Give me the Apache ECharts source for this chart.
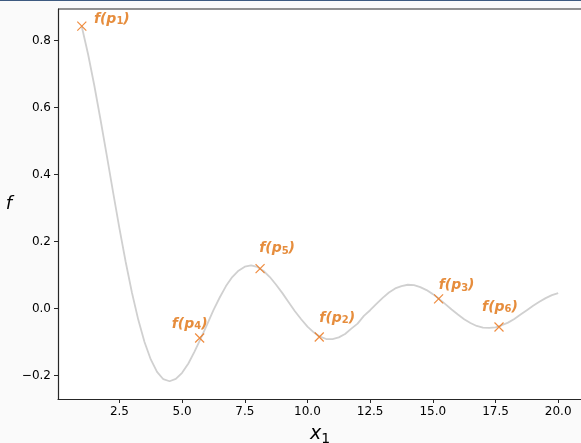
<!DOCTYPE html>
<html>
<head>
<meta charset="utf-8">
<script src="https://cdn.jsdelivr.net/npm/echarts@6/dist/echarts.min.js"></script>
<style>
  html, body { margin: 0; padding: 0; background: #fafafa; }
  #topbar { position: absolute; left: 0; top: 0; width: 581px; height: 1px; background: #3d5a80; z-index: 5; }
  #chart { width: 581px; height: 443px; }
</style>
</head>
<body>
<div id="topbar"></div>
<div id="chart"></div>
<script>
// curve f(x1)
var curveX = [1.0, 1.25, 1.5, 1.75, 2.0, 2.25, 2.5, 2.75, 3.0, 3.25, 3.5, 3.75, 4.0, 4.25, 4.5, 4.75, 5.0, 5.25, 5.5, 5.75,
              6.0, 6.25, 6.5, 6.75, 7.0, 7.25, 7.5, 7.75, 8.0, 8.25, 8.5, 8.75, 9.0, 9.25, 9.5, 9.75, 10.0, 10.25, 10.5, 10.75,
              11.0, 11.25, 11.5, 11.75, 12.0, 12.25, 12.5, 12.75, 13.0, 13.25, 13.5, 13.75, 14.0, 14.25, 14.5, 14.75, 15.0, 15.25, 15.5, 15.75,
              16.0, 16.25, 16.5, 16.75, 17.0, 17.25, 17.5, 17.75, 18.0, 18.25, 18.5, 18.75, 19.0, 19.25, 19.5, 19.75, 20.0];
var curveY = [0.841, 0.759, 0.665, 0.562, 0.455, 0.346, 0.239, 0.139, 0.047, -0.033, -0.100, -0.152, -0.189, -0.211, -0.217, -0.210, -0.192, -0.164, -0.128, -0.088,
              -0.047, -0.005, 0.033, 0.067, 0.094, 0.113, 0.125, 0.129, 0.124, 0.112, 0.094, 0.071, 0.046, 0.019, -0.008, -0.032, -0.054, -0.071, -0.084, -0.091,
              -0.091, -0.086, -0.076, -0.060, -0.045, -0.022, -0.005, 0.014, 0.032, 0.048, 0.060, 0.067, 0.071, 0.070, 0.064, 0.055, 0.043, 0.029, 0.013, -0.003,
              -0.018, -0.032, -0.043, -0.052, -0.057, -0.058, -0.056, -0.050, -0.042, -0.031, -0.018, -0.005, 0.008, 0.020, 0.031, 0.040, 0.046];

// sampled points p_i
var pointNames = ['1', '4', '5', '2', '3', '6'];
var pointX = [1.0, 5.70, 8.11, 10.47, 15.23, 17.64];
var pointY = [0.843, -0.088, 0.119, -0.085, 0.029, -0.055];

var xTicks = [2.5, 5.0, 7.5, 10.0, 12.5, 15.0, 17.5, 20.0];
var yTicks = [-0.2, 0.0, 0.2, 0.4, 0.6, 0.8];

// label offsets from each marker
var labelOffsets = [[30, -7], [-10, -14], [17, -20], [18, -19], [18, -13], [1, -20]];

var chart = echarts.init(document.getElementById('chart'));

var curveData = curveX.map(function (x, i) { return [x, curveY[i]]; });
var pointData = pointX.map(function (x, i) {
  return {
    value: [x, pointY[i]],
    name: pointNames[i],
    label: { offset: labelOffsets[i] }
  };
});

var axisColor = '#262626';
var labelColor = '#e0700c';

chart.setOption({
  animation: false,
  backgroundColor: '#fafafa',
  grid: {
    left: 58, top: 9, width: 524, bottom: 44,
    outerBoundsMode: 'none',
    containLabel: false,
    show: true, backgroundColor: '#ffffff', borderWidth: 0
  },
  xAxis: {
    type: 'value',
    min: 0.05, max: 20.95,
    name: '{i|x}{s|1}',
    nameLocation: 'middle',
    nameGap: 23,
    nameTextStyle: {
      color: '#000',
      rich: {
        i: { fontFamily: 'DejaVu Sans', fontStyle: 'italic', fontSize: 19, color: '#000' },
        s: { fontFamily: 'DejaVu Sans', fontSize: 14, color: '#000', padding: [10, 0, 0, 0] }
      }
    },
    splitLine: { show: false },
    axisLine: { show: true, onZero: false, lineStyle: { color: axisColor, width: 1.2 } },
    axisTick: { show: true, length: 4, customValues: xTicks, lineStyle: { color: axisColor } },
    axisLabel: {
      customValues: xTicks, color: '#000', fontFamily: 'DejaVu Sans', fontSize: 12, margin: 7,
      formatter: function (v) { return v.toFixed(1); }
    }
  },
  yAxis: {
    type: 'value',
    min: -0.27, max: 0.894,
    name: 'f',
    nameLocation: 'middle',
    nameRotate: 0,
    nameGap: 46,
    nameTextStyle: { fontFamily: 'DejaVu Sans', fontStyle: 'italic', fontSize: 18, color: '#000' },
    splitLine: { show: false },
    axisLine: { show: true, onZero: false, lineStyle: { color: axisColor, width: 1.2 } },
    axisTick: { show: true, length: 4, customValues: yTicks, lineStyle: { color: axisColor } },
    axisLabel: {
      customValues: yTicks, color: '#000', fontFamily: 'DejaVu Sans', fontSize: 12, margin: 7,
      formatter: function (v) { return v.toFixed(1).replace('-', '\u2212'); }
    }
  },
  graphic: [
    { type: 'line', shape: { x1: 58, y1: 9, x2: 581, y2: 9 }, style: { stroke: axisColor, lineWidth: 1.2 }, z: 10 }
  ],
  series: [
    {
      type: 'line',
      data: curveData,
      smooth: false,
      showSymbol: false,
      lineStyle: { color: '#d0d0d0', width: 1.8 },
      z: 1
    },
    {
      type: 'scatter',
      data: pointData,
      symbol: 'path://M0,0L10,10M10,0L0,10',
      symbolSize: 9,
      itemStyle: { color: 'none', borderColor: '#ec7010', borderWidth: 1.2 },
      z: 3,
      label: {
        show: true,
        position: 'inside',
        formatter: function (p) { return '{f|f}{b|(p}{s|' + p.name + '}{b|)}'; },
        rich: {
          f: { fontFamily: 'DejaVu Sans', fontStyle: 'italic', fontWeight: 'bold', fontSize: 14, color: labelColor },
          b: { fontFamily: 'DejaVu Sans', fontStyle: 'italic', fontWeight: 'bold', fontSize: 14, color: labelColor },
          s: { fontFamily: 'DejaVu Sans', fontWeight: 'bold', fontSize: 10, color: labelColor, padding: [5, 0, 0, 0] }
        }
      }
    }
  ]
});
</script>
</body>
</html>
